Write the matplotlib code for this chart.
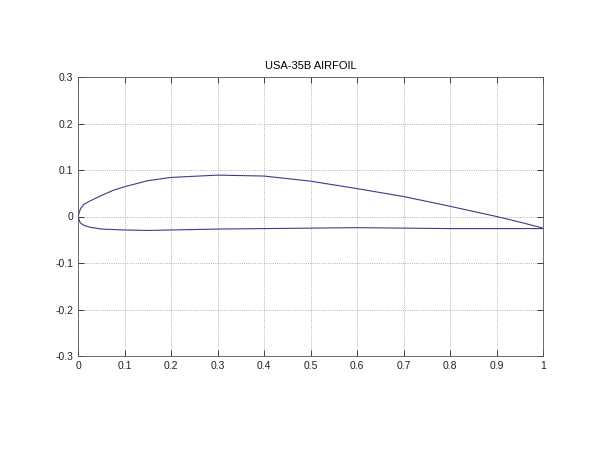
import matplotlib
matplotlib.use("Agg")
import matplotlib.pyplot as plt

upper_x = [0, 0.005, 0.0125, 0.025, 0.05, 0.075, 0.1, 0.15, 0.2, 0.3, 0.4, 0.5, 0.6, 0.7, 0.8, 0.9, 0.95, 1.0]
upper_y = [0, 0.016, 0.026, 0.033, 0.045, 0.056, 0.064, 0.077, 0.084, 0.089, 0.087, 0.076, 0.060, 0.043, 0.022, 0.0, -0.012, -0.025]
lower_x = [0, 0.005, 0.0125, 0.025, 0.05, 0.075, 0.1, 0.15, 0.2, 0.3, 0.4, 0.5, 0.6, 0.7, 0.8, 0.9, 1.0]
lower_y = [0, -0.014, -0.019, -0.023, -0.027, -0.028, -0.029, -0.030, -0.029, -0.027, -0.026, -0.025, -0.024, -0.025, -0.026, -0.026, -0.026]

xticks = [0, 0.1, 0.2, 0.3, 0.4, 0.5, 0.6, 0.7, 0.8, 0.9, 1]
xtick_labels = ['0', '0.1', '0.2', '0.3', '0.4', '0.5', '0.6', '0.7', '0.8', '0.9', '1']
yticks = [-0.3, -0.2, -0.1, 0, 0.1, 0.2, 0.3]
ytick_labels = ['-0.3', '-0.2', '-0.1', '0', '0.1', '0.2', '0.3']

plt.rcParams['font.family'] = ['Liberation Sans', 'DejaVu Sans']
fig = plt.figure(figsize=(6, 4.5), dpi=100)
ax = fig.add_axes([78/600, 1 - 356/450, (543-78)/600, (356-77)/450])

line_color = '#3c3c88'
x_all = list(reversed(upper_x)) + lower_x[1:]
y_all = list(reversed(upper_y)) + lower_y[1:]
ax.plot(x_all, y_all, color=line_color, linewidth=0.8)

ax.set_xlim(0, 1)
ax.set_ylim(-0.3, 0.3)
ax.set_xticks(xticks)
ax.set_xticklabels(xtick_labels)
ax.set_yticks(yticks)
ax.set_yticklabels(ytick_labels)
ax.tick_params(direction='in', top=True, right=True, length=4, width=0.6, labelsize=7.5, colors='#222222')
ax.grid(True, linestyle=':', color='#999999', linewidth=0.6)
for s in ax.spines.values():
    s.set_linewidth(0.6)
    s.set_color('#555555')
ax.set_title('USA-35B AIRFOIL', fontsize=8, pad=6)

fig.savefig('out.png', dpi=100)
